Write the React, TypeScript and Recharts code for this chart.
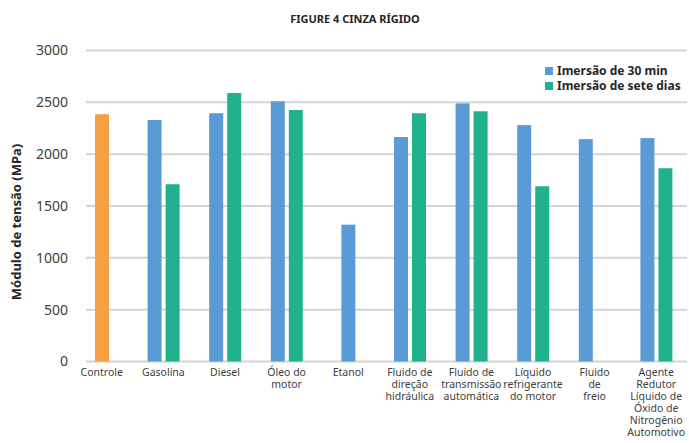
import { BarChart, Bar, XAxis, YAxis, CartesianGrid, Cell } from 'recharts'

const categories = [
  'Controle',
  'Gasolina',
  'Diesel',
  'Óleo do\nmotor',
  'Etanol',
  'Fluido de\ndireção\nhidráulica',
  'Fluido de\ntransmissão\nautomática',
  'Líquido\nrefrigerante\ndo motor',
  'Fluido\nde\nfreio',
  'Agente\nRedutor\nLíquido de\nÓxido de\nNitrogênio\nAutomotivo',
]

const controle = [2385, null, null, null, null, null, null, null, null, null]
const trintaMin = [null, 2330, 2395, 2510, 1320, 2165, 2490, 2280, 2145, 2155]
const seteDias = [null, 1710, 2590, 2425, null, 2395, 2415, 1690, 0, 1865]

const yTicks = [0, 500, 1000, 1500, 2000, 2500, 3000]

const ORANGE = '#F79F45'
const BLUE = '#5B9BD5'
const GREEN = '#20B18F'

const data = categories.map((name, i) => ({
  name,
  isControle: controle[i] != null,
  a: controle[i] ?? trintaMin[i],
  b: seteDias[i],
}))

// a single bar sits in the middle of its category when the second slot is empty
const ShiftedBar = (props: any) => {
  const { x, y, width, height, fill, payload } = props
  if (!height || height <= 0) return null
  const dx = payload.b == null ? (width + 4) / 2 : 0
  return <rect x={x + dx} y={y} width={width} height={height} fill={fill} />
}

const CategoryTick = (props: any) => {
  const { x, y, payload } = props
  const lines = String(payload.value).split('\n')
  return (
    <text x={x} y={y} textAnchor="middle" fill="#404040" fontSize={10.5} fontFamily="Noto Sans">
      {lines.map((l, i) => (
        <tspan key={i} x={x} dy={i === 0 ? 14 : 12}>{l}</tspan>
      ))}
    </text>
  )
}

const legendItems = [
  { label: 'Imersão de 30 min', color: BLUE },
  { label: 'Imersão de sete dias', color: GREEN },
]

export default function App() {
  return (
    <div style={{ position: 'fixed', left: 0, top: 0, width: 689, height: 443, background: '#fff' }}>
      <BarChart
        width={689}
        height={443}
        data={data}
        margin={{ top: 50.5, right: 2, left: 0, bottom: 61.5 }}
        barSize={14}
        barGap={4}
      >
        <text x={355} y={23} textAnchor="middle" fontFamily="Noto Sans" fontSize={11} fontWeight={700} fill="#262626">
          FIGURE 4 CINZA RÍGIDO
        </text>
        <CartesianGrid vertical={false} x={86} width={601} stroke="#D4D4D4" strokeWidth={2} />
        <XAxis
          dataKey="name"
          height={20}
          axisLine={false}
          tickLine={false}
          tickSize={0}
          tickMargin={0}
          interval={0}
          tick={<CategoryTick />}
        />
        <YAxis
          width={71}
          domain={[0, 3000]}
          ticks={yTicks}
          axisLine={false}
          tickLine={false}
          tickSize={0}
          tickMargin={3}
          tick={{ fill: '#404040', fontSize: 14, fontFamily: 'Noto Sans' }}
        />
        <text
          x={21}
          y={222}
          transform="rotate(-90 21 222)"
          textAnchor="middle"
          fontFamily="Noto Sans"
          fontSize={13}
          fontWeight={700}
          fill="#262626"
        >
          Módulo de tensão (MPa)
        </text>
        <Bar dataKey="a" fill={BLUE} shape={<ShiftedBar />} isAnimationActive={false}>
          {data.map((d, i) => (
            <Cell key={i} fill={d.isControle ? ORANGE : BLUE} />
          ))}
        </Bar>
        <Bar dataKey="b" fill={GREEN} isAnimationActive={false} />
      </BarChart>
      <div
        style={{
          position: 'absolute',
          top: 63,
          left: 545,
          fontFamily: 'Noto Sans',
          fontSize: 12,
          fontWeight: 700,
          color: '#262626',
          lineHeight: '15px',
        }}
      >
        {legendItems.map((it) => (
          <div key={it.label} style={{ display: 'flex', alignItems: 'center', whiteSpace: 'nowrap' }}>
            <span style={{ width: 8, height: 8, background: it.color, marginRight: 4, display: 'inline-block' }} />
            <span>{it.label}</span>
          </div>
        ))}
      </div>
    </div>
  )
}
